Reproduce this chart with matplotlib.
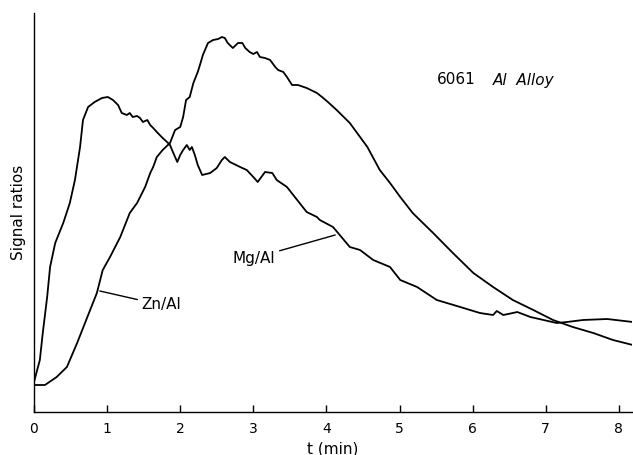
import matplotlib
matplotlib.use("Agg")
import matplotlib.pyplot as plt

# Time (min) and signal ratios (arbitrary units)
mg_t = [0.00, 0.08, 0.12, 0.18, 0.22, 0.29, 0.40, 0.49, 0.56, 0.63, 0.67, 0.74, 0.83, 0.93,
        1.01, 1.08, 1.15, 1.20, 1.27, 1.31, 1.35, 1.41, 1.45, 1.49, 1.55, 1.59, 1.63, 1.68,
        1.72, 1.76, 1.82, 1.86, 1.90, 1.96, 2.00, 2.04, 2.09, 2.13, 2.16, 2.20, 2.24, 2.30,
        2.41, 2.50, 2.57, 2.61, 2.68, 2.82, 2.91, 3.00, 3.06, 3.16, 3.26, 3.32,
        3.46, 3.60, 3.73, 3.87, 3.91, 4.09, 4.32, 4.46, 4.64, 4.87, 5.01, 5.24, 5.51, 5.83,
        6.10, 6.28, 6.33, 6.42, 6.55, 6.61, 6.79, 7.15, 7.29, 7.51, 7.84, 8.19]
mg_y = [30, 52, 79, 115, 145, 169, 189, 209, 232, 265, 292, 305, 310, 314,
        315, 312, 307, 299, 297, 299, 295, 296, 294, 290, 292, 287, 284, 280,
        277, 274, 270, 267, 260, 250, 257, 262, 267, 262, 265, 257, 247, 237,
        239, 244, 252, 255, 250, 245, 242, 235, 230, 240, 239, 232,
        225, 212, 200, 195, 192, 185, 165, 162, 152, 145, 132, 125, 112, 105,
        99, 97, 101, 97, 99, 100, 95, 89, 90, 92, 93, 90]

zn_t = [0.00, 0.15, 0.31, 0.45, 0.59, 0.73, 0.86, 0.94, 1.04, 1.18, 1.31, 1.41, 1.52, 1.59,
        1.63, 1.68, 1.76, 1.86, 1.93, 2.00, 2.04, 2.08, 2.13, 2.18, 2.24, 2.27, 2.31, 2.38,
        2.45, 2.52, 2.57, 2.61, 2.65, 2.72, 2.79, 2.85, 2.89, 2.95, 3.00, 3.05, 3.09, 3.16,
        3.23, 3.30, 3.34, 3.41, 3.46, 3.53, 3.61, 3.73, 3.87, 3.94, 4.02, 4.14,
        4.32, 4.56, 4.73, 4.87, 5.01, 5.18, 5.46, 5.73, 6.01, 6.28,
        6.55, 6.83, 7.10, 7.37, 7.65, 7.92, 8.19]
zn_y = [27, 27, 35, 45, 69, 95, 119, 142, 155, 175, 199, 209, 225, 239,
        245, 255, 262, 269, 282, 285, 295, 312, 315, 329, 340, 347, 357, 369,
        372, 373, 375, 374, 369, 364, 369, 369, 364, 360, 358, 360, 355, 354,
        352, 345, 342, 340, 335, 327, 327, 324, 319, 315, 310, 302,
        289, 265, 242, 229, 215, 199, 179, 159, 139, 125,
        112, 102, 92, 85, 79, 72, 67]

x_ticks = [0, 1, 2, 3, 4, 5, 6, 7, 8]
x_tick_labels = ["0", "1", "2", "3", "4", "5", "6", "7", "8"]

fig = plt.figure(figsize=(6.33, 4.55), dpi=100)
ax = fig.add_axes([34 / 633, 1 - 412 / 455, 598 / 633, 399 / 455])

ax.plot(mg_t, mg_y, color="black", lw=1.3)
ax.plot(zn_t, zn_y, color="black", lw=1.3)

ax.set_xlim(0, 8.18)
ax.set_ylim(0, 399)
for s in ["top", "right"]:
    ax.spines[s].set_visible(False)
for s in ["left", "bottom"]:
    ax.spines[s].set_linewidth(1.0)

ax.set_xticks(x_ticks)
ax.set_xticklabels(x_tick_labels, fontsize=10)
ax.tick_params(axis="x", direction="in", length=5, width=1.0, pad=7)
ax.set_yticks([])

ax.set_xlabel("t (min)", fontsize=11, labelpad=4)
ax.set_ylabel("Signal ratios", fontsize=11, labelpad=6)

# annotations
ax.annotate("Zn/Al", xy=(0.90, 121), xytext=(1.47, 107), fontsize=11,
            va="center", ha="left",
            arrowprops=dict(arrowstyle="-", color="black", lw=1.0, shrinkA=1, shrinkB=0))
ax.annotate("Mg/Al", xy=(4.12, 177), xytext=(2.72, 154), fontsize=11,
            va="center", ha="left",
            arrowprops=dict(arrowstyle="-", color="black", lw=1.0, shrinkA=1, shrinkB=0))

ax.text(5.51, 332, "6061", fontsize=11, va="center", ha="left")
ax.text(6.27, 332, "Al  Alloy", fontsize=11, va="center", ha="left", style="italic")

fig.savefig("out.png", dpi=100)
